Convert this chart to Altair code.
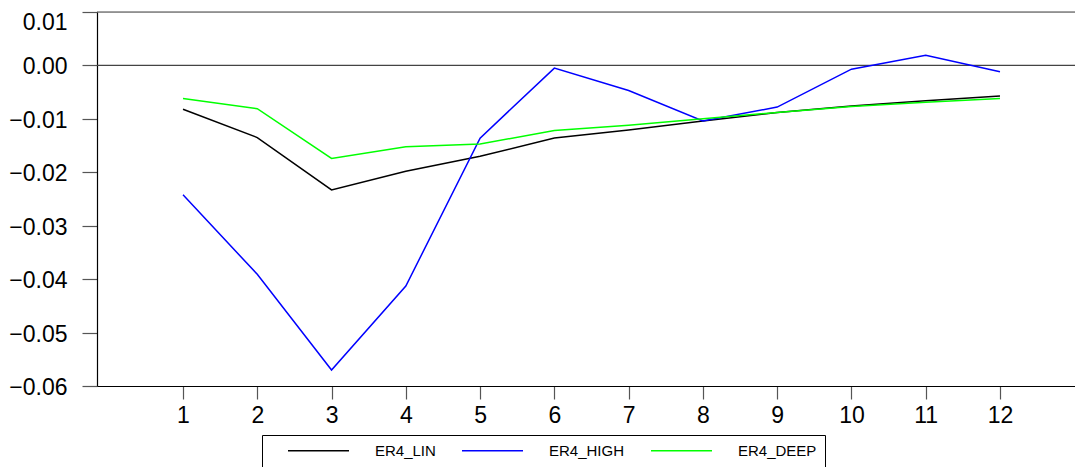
import altair as alt
import pandas as pd

steps = [1, 2, 3, 4, 5, 6, 7, 8, 9, 10, 11, 12]
series_names = ["ER4_LIN", "ER4_HIGH", "ER4_DEEP"]
series_colors = ["#000000", "#0000FF", "#00FF00"]

er4_lin = [-0.0082, -0.0135, -0.0233, -0.0198, -0.0170, -0.0136,
           -0.0121, -0.0104, -0.0088, -0.0076, -0.0066, -0.0057]
er4_high = [-0.0242, -0.0391, -0.0570, -0.0413, -0.0136, -0.0005,
            -0.0047, -0.0104, -0.0078, -0.0007, 0.0019, -0.0012]
er4_deep = [-0.0062, -0.0081, -0.0174, -0.0152, -0.0147, -0.0122,
            -0.0112, -0.0100, -0.0088, -0.0077, -0.0069, -0.0062]

y_ticks = [-0.06, -0.05, -0.04, -0.03, -0.02, -0.01, 0.00, 0.01]
ref_lines = [0.0, 0.01]

rows = []
for name, vals in zip(series_names, [er4_lin, er4_high, er4_deep]):
    for s, v in zip(steps, vals):
        rows.append({"step": s, "value": v, "series": name})
df = pd.DataFrame(rows)
ref_df = pd.DataFrame({"y": ref_lines})

FONT = "Liberation Sans"

x_scale = alt.Scale(domain=[-0.158, 13.01], nice=False, zero=False)
y_scale = alt.Scale(domain=[-0.06, 0.01], nice=False, zero=False)

lines = alt.Chart(df).mark_line(strokeWidth=1.5, clip=True).encode(
    x=alt.X("step:Q", scale=x_scale,
            axis=alt.Axis(values=steps, format="d", title=None, grid=False,
                          labelFont=FONT, labelFontSize=23, labelColor="black",
                          tickSize=13, tickColor="#555555", tickWidth=1.2,
                          domainColor="black", domainWidth=1.2,
                          labelPadding=5, labelFlush=False)),
    y=alt.Y("value:Q", scale=y_scale,
            axis=alt.Axis(values=y_ticks, format=".2f", title=None, grid=False,
                          labelFont=FONT, labelFontSize=23, labelColor="black",
                          tickSize=15, tickColor="#555555", tickWidth=1.2,
                          domainColor="black", domainWidth=1.2,
                          labelPadding=15, labelFlush=False,
                          labelOffset={"condition": {"test": "datum.value > 0.005", "value": 10.5},
                                       "value": 1.5})),
    color=alt.Color("series:N",
                    scale=alt.Scale(domain=series_names, range=series_colors),
                    sort=series_names,
                    legend=alt.Legend(
                        orient="none", legendX=165, legendY=423,
                        direction="horizontal", title=None,
                        symbolType="stroke", symbolSize=3721,
                        symbolStrokeWidth=1.5, symbolOffset=17,
                        labelOffset=25, labelFont=FONT, labelFontSize=15,
                        labelColor="black", padding=8, columnPadding=8,
                        strokeColor="black", fillColor="white",
                        clipHeight=15,
                        labelExpr="datum.label == 'ER4_DEEP' ? 'ER4_DEEP    ' : datum.label")),
    detail="series:N",
)

rules = alt.Chart(ref_df).mark_rule(color="#444444", strokeWidth=1.2).encode(
    y=alt.Y("y:Q", scale=y_scale)
)

chart = alt.layer(rules, lines).properties(
    width=978, height=374,
    autosize=alt.AutoSizeParams(type="none"),
    padding={"left": 89, "top": 4, "right": 0, "bottom": 81},
).configure_view(stroke=None).configure(background="white")

chart.save("out.html", embed_options={"renderer": "svg", "actions": False})
